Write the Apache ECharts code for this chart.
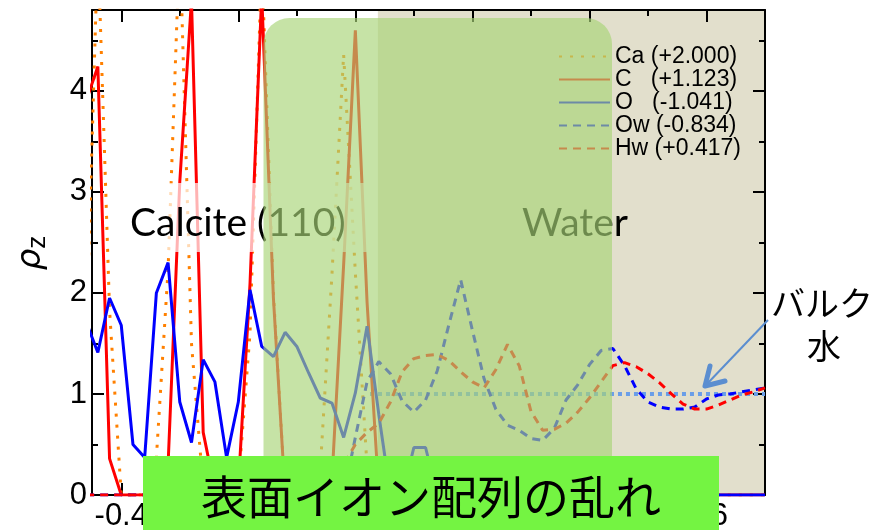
<!DOCTYPE html>
<html>
<head>
<meta charset="utf-8">
<script src="https://cdn.jsdelivr.net/npm/echarts@6/dist/echarts.min.js"></script>
<style>
  html, body { margin: 0; padding: 0; background: #fff; }
  #chart { width: 873px; height: 530px; }
</style>
</head>
<body>
<div id="chart"></div>
<script>
// Distance from the calcite (110) surface, nm
const zPos = [
  -0.52, -0.48, -0.44, -0.40, -0.36, -0.32, -0.28, -0.24, -0.20, -0.16,
  -0.12, -0.08, -0.04, 0.00, 0.04, 0.08, 0.12, 0.16, 0.20, 0.24,
  0.28, 0.32, 0.36, 0.40, 0.44, 0.48, 0.52, 0.56, 0.60, 0.64,
  0.68, 0.72, 0.76, 0.80, 0.84, 0.88, 0.92, 0.96, 1.00, 1.04,
  1.08, 1.12, 1.16, 1.20, 1.24, 1.28, 1.32, 1.36, 1.40, 1.44,
  1.48, 1.52, 1.56, 1.60, 1.64, 1.68, 1.72, 1.76, 1.80
];

// Normalised number density profiles per species
const caRho = [
  1.50, 5.45, 1.83, 0, 0, 0, 0.37, 2.23, 5.50, 1.50,
  0.07, 0, 0, 0.10, 1.60, 5.30, 2.00, 0, 0, 0,
  0.25, 2.18, 4.36, 2.20, 0.28, 0, 0, 0, 0, 0,
  0, 0, 0, 0, 0, 0, 0, 0, 0, 0,
  0, 0, 0, 0, 0, 0, 0, 0, 0, 0,
  0, 0, 0, 0, 0, 0, 0, 0, 0
];
const cRho = [
  3.90, 4.24, 0.36, 0, 0, 0, 0, 0.30, 3.10, 4.90,
  0.62, 0.05, 0, 0.08, 2.09, 4.95, 1.95, 0, 0, 0,
  0, 0.15, 2.28, 4.60, 1.91, 0.03, 0, 0, 0, 0,
  0, 0, 0, 0, 0, 0, 0, 0, 0, 0,
  0, 0, 0, 0, 0, 0, 0, 0, 0, 0,
  0, 0, 0, 0, 0, 0, 0, 0, 0
];
const oRho = [
  1.71, 1.41, 1.95, 1.68, 0.50, 0.37, 2.00, 2.30, 0.92, 0.52,
  1.34, 1.12, 0.37, 0.92, 2.03, 1.47, 1.37, 1.61, 1.47, 1.21,
  0.96, 0.91, 0.57, 1.01, 1.67, 0.80, 0, 0, 0.47, 0.47,
  0, 0, 0, 0, 0, 0, 0, 0, 0, 0,
  0, 0, 0, 0, 0, 0, 0, 0, 0, 0,
  0, 0, 0, 0, 0, 0, 0, 0, 0
];
const owRho = [
  0, 0, 0, 0, 0, 0, 0, 0, 0, 0,
  0, 0, 0, 0, 0, 0, 0, 0, 0, 0,
  0, 0, 0, 0.57, 1.12, 1.32, 1.20, 0.93, 0.82, 0.94,
  1.23, 1.69, 2.13, 1.63, 1.15, 0.85, 0.69, 0.64, 0.56, 0.54,
  0.66, 0.94, 1.09, 1.29, 1.43, 1.45, 1.28, 1.05, 0.92, 0.87,
  0.85, 0.85, 0.87, 0.95, 0.99, 1.00, 1.02, 1.04, 1.06
];
const hwRho = [
  0, 0, 0, 0, 0, 0, 0, 0, 0, 0,
  0, 0, 0, 0, 0, 0, 0, 0, 0, 0,
  0, 0, 0.30, 0.50, 0.62, 0.71, 0.92, 1.22, 1.35, 1.38,
  1.39, 1.33, 1.22, 1.12, 1.06, 1.24, 1.49, 1.28, 0.83, 0.64,
  0.65, 0.71, 0.82, 0.96, 1.12, 1.28, 1.31, 1.27, 1.20, 1.11,
  1.00, 0.90, 0.85, 0.85, 0.89, 0.94, 0.99, 1.02, 1.06
];

// Bulk water reference level
const bulkZ = [0.45, 1.80];
const bulkRho = [1, 1];

// Species labels with partial charges
const seriesNames = ['Ca (+2.000)', 'C   (+1.123)', 'O   (-1.041)', 'Ow (-0.834)', 'Hw (+0.417)'];

// Axis ticks
const xMajorTicks = [-0.4, 0, 0.4, 0.8, 1.2, 1.6];
const xMinorTicks = [-0.2, 0.2, 0.6, 1.0, 1.4];
const yMajorTicks = [0, 1, 2, 3, 4];
const yMinorTicks = [0.5, 1.5, 2.5, 3.5, 4.5];

// Start of the water region
const waterStart = 0.477;

const X_MIN = -0.5, X_MAX = 1.8, Y_MIN = 0, Y_MAX = 4.8;

const pairs = (ys) => zPos.map((z, i) => [z, ys[i]]);
const fmt = (v) => String(Math.round(v * 10) / 10);

function xAxisDef(position, ticks, len, labels, lineShow) {
  return {
    type: 'value', position, min: X_MIN, max: X_MAX,
    axisLine: { show: lineShow, onZero: false, lineStyle: { color: '#000', width: 2 } },
    axisTick: { show: true, inside: true, length: len, customValues: ticks, lineStyle: { color: '#000', width: 2 } },
    axisLabel: labels
      ? { show: true, customValues: ticks, formatter: fmt, margin: 6, color: '#000', fontSize: 31, fontFamily: 'Liberation Sans' }
      : { show: false },
    splitLine: { show: false }
  };
}
function yAxisDef(position, ticks, len, labels, lineShow) {
  return {
    type: 'value', position, min: Y_MIN, max: Y_MAX,
    axisLine: { show: lineShow, onZero: false, lineStyle: { color: '#000', width: 2 } },
    axisTick: { show: true, inside: true, length: len, customValues: ticks, lineStyle: { color: '#000', width: 2 } },
    axisLabel: labels
      ? { show: true, customValues: ticks, formatter: fmt, margin: 5, color: '#000', fontSize: 31, fontFamily: 'Liberation Sans' }
      : { show: false },
    splitLine: { show: false }
  };
}

function lineSeries(name, ys, color, type, width) {
  return {
    name, type: 'line', data: pairs(ys), xAxisIndex: 0, yAxisIndex: 0,
    symbol: 'none', showSymbol: false, silent: true, clip: true, z: 2,
    lineStyle: { color, width, type },
    itemStyle: { color }
  };
}

const chart = echarts.init(document.getElementById('chart'), null, { renderer: 'canvas' });

const option = {
  animation: false,
  backgroundColor: '#fff',
  grid: { left: 92, right: 108, top: 10, bottom: 35, outerBoundsMode: 'none' },
  legend: {
    data: seriesNames,
    orient: 'vertical', left: 553, top: 40,
    itemWidth: 51, itemHeight: 14, itemGap: 0, z: 4,
    selectedMode: false,
    itemStyle: { opacity: 0 },
    textStyle: { fontFamily: 'Liberation Sans', fontSize: 23, color: '#000' }
  },
  xAxis: [
    xAxisDef('bottom', xMajorTicks, 12, true, true),
    xAxisDef('bottom', xMinorTicks, 6, false, false),
    xAxisDef('top', xMajorTicks, 12, false, true),
    xAxisDef('top', xMinorTicks, 6, false, false)
  ],
  yAxis: [
    yAxisDef('left', yMajorTicks, 12, true, true),
    yAxisDef('left', yMinorTicks, 6, false, false),
    yAxisDef('right', yMajorTicks, 12, false, true),
    yAxisDef('right', yMinorTicks, 6, false, false)
  ],
  series: [
    {
      name: 'bulk', type: 'line', xAxisIndex: 0, yAxisIndex: 0,
      data: bulkZ.map((z, i) => [z, bulkRho[i]]),
      symbol: 'none', silent: true, z: 2,
      lineStyle: { color: '#6A9EE8', width: 4, type: [4, 4] }
    },
    lineSeries(seriesNames[0], caRho, '#FF8000', [3, 8], 3),
    lineSeries(seriesNames[1], cRho, '#FF0000', 'solid', 3),
    lineSeries(seriesNames[2], oRho, '#0000FF', 'solid', 3),
    lineSeries(seriesNames[3], owRho, '#0000FF', [8, 6], 3),
    lineSeries(seriesNames[4], hwRho, '#FF0000', [8, 6], 3)
  ]
};
chart.setOption(option);

// Region shading and annotations placed from the axis scales
const px = (v) => chart.convertToPixel({ xAxisIndex: 0 }, v);
const py = (v) => chart.convertToPixel({ yAxisIndex: 0 }, v);
const xw = px(waterStart), xr = px(X_MAX), yt = py(Y_MAX), yb = py(Y_MIN);

chart.setOption({
  graphic: [
    // water region background
    { type: 'rect', z: -1, silent: true,
      shape: { x: xw, y: yt, width: xr - xw, height: yb - yt },
      style: { fill: '#E2DFCC' } },
    // translucent backing behind the calcite caption
    { type: 'rect', z: 5, silent: true,
      shape: { x: 125, y: 183, width: 247, height: 69 },
      style: { fill: 'rgba(255,255,255,0.7)' } },
    { type: 'text', z: 6, silent: true, x: 130, y: 223,
      style: { text: 'Calcite (110)', fill: '#000', font: '39px Lato', verticalAlign: 'middle', align: 'left' } },
    { type: 'text', z: 6, silent: true, x: 522, y: 223,
      style: { text: 'Water', fill: '#000', font: '39px Lato', verticalAlign: 'middle', align: 'left' } },
    // interfacial layer highlight
    { type: 'rect', z: 8, silent: true,
      shape: { x: 263.5, y: 18, width: 348.5, height: yb - 18, r: [26, 26, 0, 0] },
      style: { fill: 'rgba(168,212,118,0.65)' } },
    // y-axis title
    { type: 'text', z: 10, silent: true, x: 31, y: 253, rotation: Math.PI / 2,
      style: {
        text: '{a|ρ}{b|z}', align: 'center', verticalAlign: 'middle',
        rich: {
          a: { fontFamily: 'DejaVu Sans', fontStyle: 'italic', fontSize: 34, fill: '#000', lineHeight: 40, verticalAlign: 'middle' },
          b: { fontFamily: 'Liberation Sans', fontSize: 26, fill: '#000', lineHeight: 40, verticalAlign: 'bottom' }
        }
      } },
    // caption box
    { type: 'rect', z: 20, silent: true,
      shape: { x: 143, y: 456, width: 576, height: 80 },
      style: { fill: '#74F442' } },
    { type: 'text', z: 21, silent: true, x: 431, y: 497,
      style: { text: '表面イオン配列の乱れ', fill: '#000', font: '46px "Noto Sans CJK JP"', align: 'center', verticalAlign: 'middle' } },
    // bulk water callout
    { type: 'text', z: 21, silent: true, x: 822, y: 303,
      style: { text: 'バルク', fill: '#000', font: '34px "Noto Sans CJK JP"', align: 'center', verticalAlign: 'middle' } },
    { type: 'text', z: 21, silent: true, x: 824, y: 346,
      style: { text: '水', fill: '#000', font: '34px "Noto Sans CJK JP"', align: 'center', verticalAlign: 'middle' } },
    { type: 'line', z: 21, silent: true,
      shape: { x1: 768, y1: 320, x2: 706, y2: 385 },
      style: { stroke: '#5B8ED0', lineWidth: 2 } },
    { type: 'polyline', z: 21, silent: true,
      shape: { points: [[710, 366], [705, 386], [725, 381]] },
      style: { stroke: '#5B8ED0', lineWidth: 5, fill: null, lineJoin: 'round', lineCap: 'round' } }
  ]
});
</script>
</body>
</html>
